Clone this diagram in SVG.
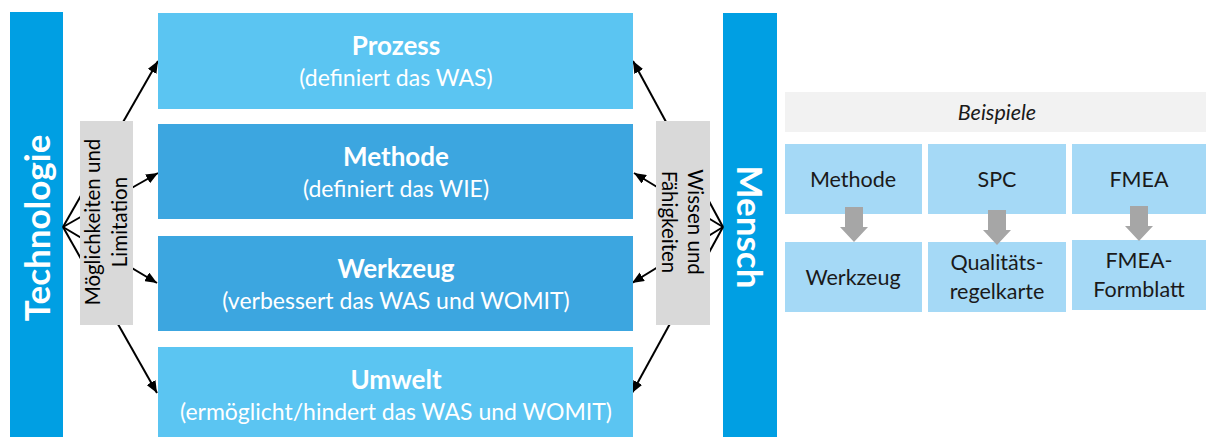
<svg xmlns="http://www.w3.org/2000/svg" width="1206" height="437" viewBox="0 0 1206 437">
  <style>
    .bar { fill: #009FE3; }
    .light { fill: #5BC5F2; }
    .dark { fill: #3CA6E0; }
    .lbl { fill: #D9D9D9; }
    .ex { fill: #A5D9F6; }
    .t { font-family: Lato, "Open Sans", sans-serif; }
    .title { font-weight: bold; font-size: 26px; fill: #FFFFFF; text-anchor: middle; }
    .sub { font-size: 23px; fill: #FFFFFF; text-anchor: middle; }
    .vert { font-weight: bold; font-size: 35px; fill: #FFFFFF; text-anchor: middle; }
    .note { font-size: 20.5px; fill: #000000; text-anchor: middle; }
    .exl { font-size: 21.5px; fill: #1A1A1A; text-anchor: middle; }
    .conn { stroke: #000000; stroke-width: 2; fill: none; }
    .blk { fill: #A6A6A6; }
  </style>
  <defs>
    <marker id="head" viewBox="0 0 12 10" refX="12" refY="5" markerWidth="12" markerHeight="10" markerUnits="userSpaceOnUse" orient="auto">
      <path d="M0,0 L12,5 L0,10 Z" fill="#000000"/>
    </marker>
  </defs>

  <!-- side bars -->
  <g id="technologie">
    <rect class="bar" x="10" y="12" width="53" height="425"/>
    <text class="t vert" transform="translate(50,228) rotate(-90)">Technologie</text>
  </g>
  <g id="mensch">
    <rect class="bar" x="723" y="13" width="54" height="424"/>
    <text class="t vert" transform="translate(737,227) rotate(90)">Mensch</text>
  </g>

  <!-- connectors fanning out from both bars -->
  <g id="connectors">
    <line class="conn" x1="63" y1="227" x2="158" y2="61" marker-end="url(#head)"/>
    <line class="conn" x1="63" y1="227" x2="158" y2="173" marker-end="url(#head)"/>
    <line class="conn" x1="63" y1="227" x2="157" y2="283" marker-end="url(#head)"/>
    <line class="conn" x1="63" y1="227" x2="157" y2="393" marker-end="url(#head)"/>
    <line class="conn" x1="723" y1="227" x2="633" y2="61" marker-end="url(#head)"/>
    <line class="conn" x1="723" y1="227" x2="634" y2="173" marker-end="url(#head)"/>
    <line class="conn" x1="723" y1="227" x2="632" y2="283" marker-end="url(#head)"/>
    <line class="conn" x1="723" y1="227" x2="632" y2="393" marker-end="url(#head)"/>
  </g>

  <!-- labels over the connectors -->
  <g id="moeglichkeiten">
    <rect class="lbl" x="80" y="121" width="53" height="204"/>
    <text class="t note" transform="translate(100,222) rotate(-90)">Möglichkeiten und</text>
    <text class="t note" transform="translate(127,222) rotate(-90)">Limitation</text>
  </g>
  <g id="wissen">
    <rect class="lbl" x="656" y="121" width="54" height="204"/>
    <text class="t note" transform="translate(688,222) rotate(90)">Wissen und</text>
    <text class="t note" transform="translate(662,222) rotate(90)">Fähigkeiten</text>
  </g>

  <!-- central layers -->
  <g id="prozess">
    <rect class="light" x="158" y="13" width="475" height="96"/>
    <text class="t title" x="396" y="55">Prozess</text>
    <text class="t sub" x="396" y="86">(definiert das WAS)</text>
  </g>
  <g id="methode">
    <rect class="dark" x="158" y="124" width="475" height="95"/>
    <text class="t title" x="396" y="166">Methode</text>
    <text class="t sub" x="396" y="197">(definiert das WIE)</text>
  </g>
  <g id="werkzeug">
    <rect class="dark" x="158" y="236" width="475" height="95"/>
    <text class="t title" x="396" y="278">Werkzeug</text>
    <text class="t sub" x="396" y="309">(verbessert das WAS und WOMIT)</text>
  </g>
  <g id="umwelt">
    <rect class="light" x="158" y="347" width="475" height="90"/>
    <text class="t title" x="396" y="389">Umwelt</text>
    <text class="t sub" x="396" y="420">(ermöglicht/hindert das WAS und WOMIT)</text>
  </g>

  <!-- examples -->
  <g id="beispiele">
    <rect x="785" y="92" width="421" height="40" fill="#F2F2F2"/>
    <text class="t exl" x="997" y="120" font-style="italic" font-size="22.5">Beispiele</text>
  </g>
  <g id="ex-methode">
    <rect class="ex" x="785" y="144" width="137" height="70"/>
    <text class="t exl" x="853" y="187">Methode</text>
  </g>
  <g id="ex-spc">
    <rect class="ex" x="928" y="144" width="138" height="70"/>
    <text class="t exl" x="997" y="187">SPC</text>
  </g>
  <g id="ex-fmea">
    <rect class="ex" x="1072" y="144" width="134" height="70"/>
    <text class="t exl" x="1139" y="187">FMEA</text>
  </g>
  <g id="ex-werkzeug">
    <rect class="ex" x="785" y="242" width="137" height="70"/>
    <text class="t exl" x="853" y="285">Werkzeug</text>
  </g>
  <g id="ex-qrk">
    <rect class="ex" x="928" y="242" width="138" height="70"/>
    <text class="t exl" x="997" y="270">Qualitäts-</text>
    <text class="t exl" x="997" y="299">regelkarte</text>
  </g>
  <g id="ex-formblatt">
    <rect class="ex" x="1072" y="240" width="134" height="70"/>
    <text class="t exl" x="1139" y="268">FMEA-</text>
    <text class="t exl" x="1139" y="297">Formblatt</text>
  </g>

  <!-- block arrows between example pairs -->
  <g id="block-arrows">
    <path class="blk" d="M845,207 H863 V227 H868 L854,242 L840,227 H845 Z"/>
    <path class="blk" d="M988,210 H1006 V230 H1011 L997,245 L983,230 H988 Z"/>
    <path class="blk" d="M1130,206 H1148 V226 H1153 L1139,241 L1125,226 H1130 Z"/>
  </g>
</svg>
